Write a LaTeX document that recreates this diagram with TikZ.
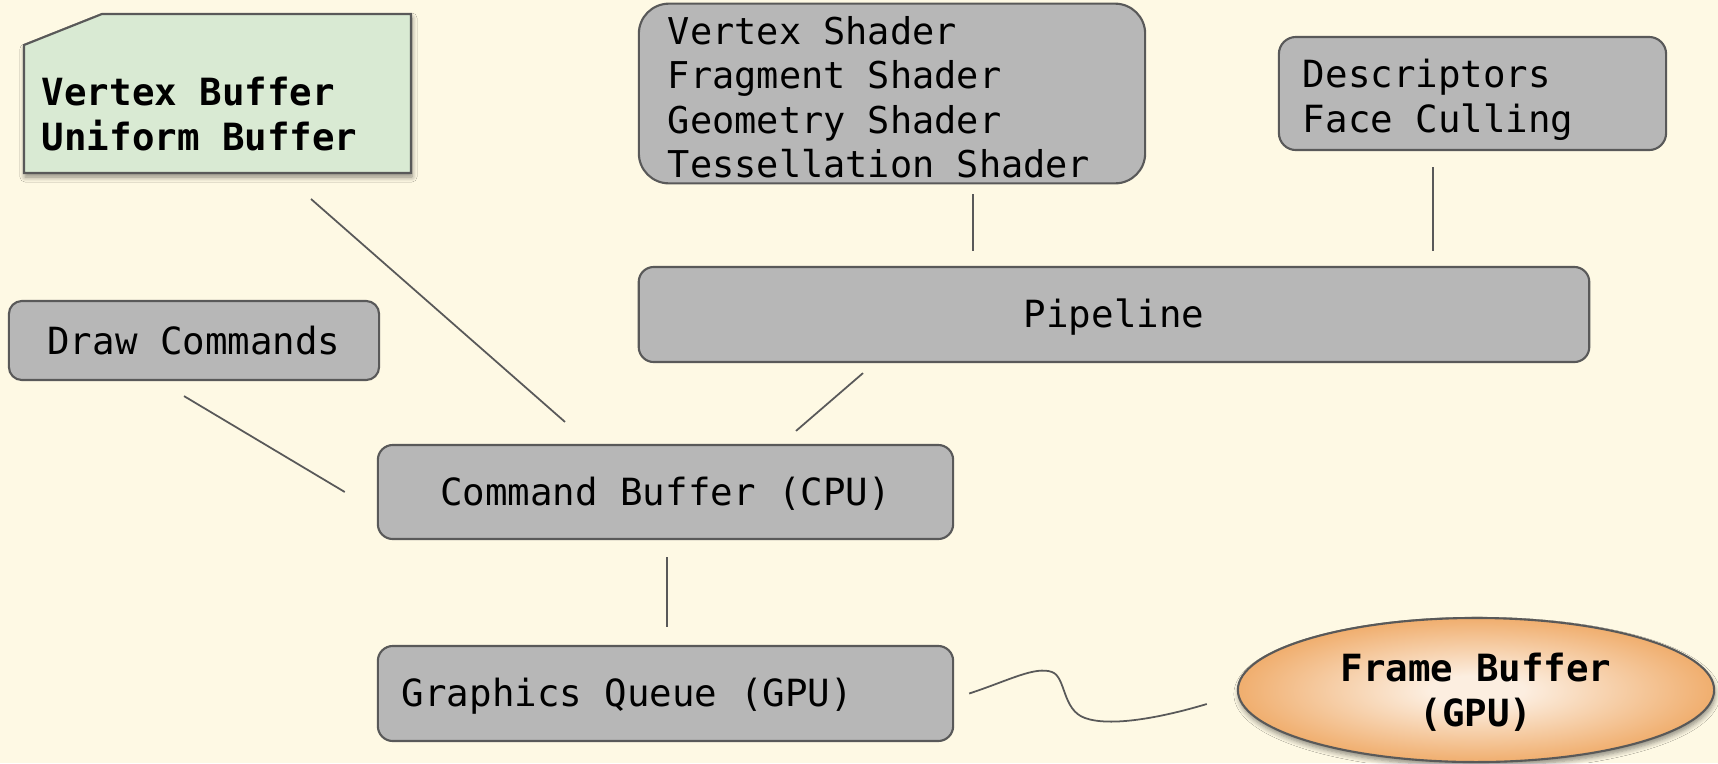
\documentclass[tikz,border=0pt]{standalone}
\usepackage{fontspec}
\newfontfamily\mono{DejaVu Sans Mono}
\usetikzlibrary{shapes.geometric,shadows.blur,backgrounds}
\definecolor{paper}{RGB}{254,249,228}
\definecolor{boxgray}{RGB}{183,183,183}
\definecolor{edgegray}{RGB}{89,89,89}
\definecolor{notegreen}{RGB}{217,234,211}
\definecolor{fbouter}{RGB}{240,174,110}
\definecolor{fbinner}{RGB}{252,238,224}
\pgfdeclareradialshading{fbglow}{\pgfpoint{0bp}{0bp}}{%
  color(0bp)=(fbinner); color(5bp)=(fbinner); color(25bp)=(fbouter); color(50bp)=(fbouter)}
% fixed line boxes so every label sits at the same height in its shape
\newcommand\lnstrut{\rule[-1.7pt]{0pt}{11.3pt}}
\newcommand\topstrut{\rule{0pt}{11.6pt}}
\begin{document}
\begin{tikzpicture}[x=0.01cm, y=-0.01cm,
  txt/.style={font=\mono\fontsize{10.65pt}{12.6pt}\selectfont},
  boldtxt/.style={font=\mono\bfseries\fontsize{10.65pt}{12.6pt}\selectfont},
  box/.style={txt, draw=edgegray, fill=boxgray, line width=0.6pt, inner sep=0pt},
  link/.style={draw=edgegray, line width=0.5pt},
  softshadow/.style={blur shadow={shadow xshift=0.01cm, shadow yshift=-0.04cm,
      shadow blur radius=0.05cm, shadow blur steps=6, shadow opacity=45}},
]
\useasboundingbox (0,0) rectangle (1718,763);

% stages and resources
\node[box, font=\mono\fontsize{10.5pt}{12.6pt}\selectfont, rounded corners=0.3cm,
      minimum width=5.06cm, minimum height=1.79cm,
      text width=4.48cm, align=flush left] (shaders) at (892,93.5)
  {\topstrut Vertex Shader\\Fragment Shader\\Geometry Shader\\Tessellation Shader\lnstrut};
\node[box, rounded corners=0.17cm, minimum width=3.87cm, minimum height=1.13cm,
      text width=3.39cm, align=flush left] (desc) at (1472.5,93.5)
  {\topstrut Descriptors\\Face Culling\lnstrut};
\node[box, rounded corners=0.15cm, minimum width=9.50cm, minimum height=0.95cm]
  (pipe) at (1114,314.5) {\lnstrut Pipeline};
\node[box, rounded corners=0.13cm, minimum width=3.70cm, minimum height=0.79cm]
  (drawcmd) at (194,340.5) {\lnstrut Draw Commands};
\node[box, rounded corners=0.15cm, minimum width=5.75cm, minimum height=0.94cm]
  (cb) at (665.5,492) {\lnstrut Command Buffer (CPU)};
\node[box, rounded corners=0.15cm, minimum width=5.75cm, minimum height=0.95cm,
      text width=5.27cm, align=flush left] (gq) at (665.5,693.5)
  {\lnstrut Graphics Queue (GPU)};

% buffers note with a cut corner
\node[boldtxt, inner sep=0pt, text width=3.51cm, align=flush left] (note) at (217.5,110.5)
  {\topstrut Vertex Buffer\\Uniform Buffer\lnstrut};

% frame buffer
\node[ellipse, boldtxt, draw=edgegray, line width=0.6pt, shading=fbglow,
      minimum width=4.76cm, minimum height=1.44cm,
      inner sep=0pt, align=flush center, softshadow] (fb) at (1476,690)
  {\lnstrut Frame Buffer\\(GPU)\lnstrut};

\begin{scope}[on background layer]
  \fill[paper] (0,0) rectangle (1718,763);
  \draw[fill=notegreen, draw=edgegray, line width=0.6pt, softshadow]
    ([shift={(-193.5,-65.5)}]note.center) -- ([shift={(-115.5,-96.5)}]note.center)
    -- ([shift={(193.5,-96.5)}]note.center) -- ([shift={(193.5,62.5)}]note.center)
    -- ([shift={(-193.5,62.5)}]note.center) -- cycle;
\end{scope}

% connectors
\draw[link] ([shift={(93.5,88.5)}]note.center) -- ([shift={(-100.5,-22)}]cb.north);
\draw[link] ([shift={(-10,15)}]drawcmd.south) -- ([shift={(-32,0)}]cb.west);
\draw[link] ([shift={(-251,10)}]pipe.south) -- ([shift={(130.5,-13)}]cb.north);
\draw[link] ([shift={(81,10)}]shaders.south) -- ([shift={(-141,-15)}]pipe.north);
\draw[link] ([shift={(-39.5,16)}]desc.south) -- ([shift={(319,-15)}]pipe.north);
\draw[link] ([shift={(1.5,17)}]cb.south) -- ([shift={(1.5,-18)}]gq.north);
\draw[link] ([shift={(15,0)}]gq.east)
  .. controls (1010,680) and (1035,666) .. (1052,672)
  .. controls (1066,677) and (1062,710) .. (1085,718)
  .. controls (1110,727) and (1160,718) .. ([shift={(-30,14)}]fb.west);
\end{tikzpicture}
\end{document}
